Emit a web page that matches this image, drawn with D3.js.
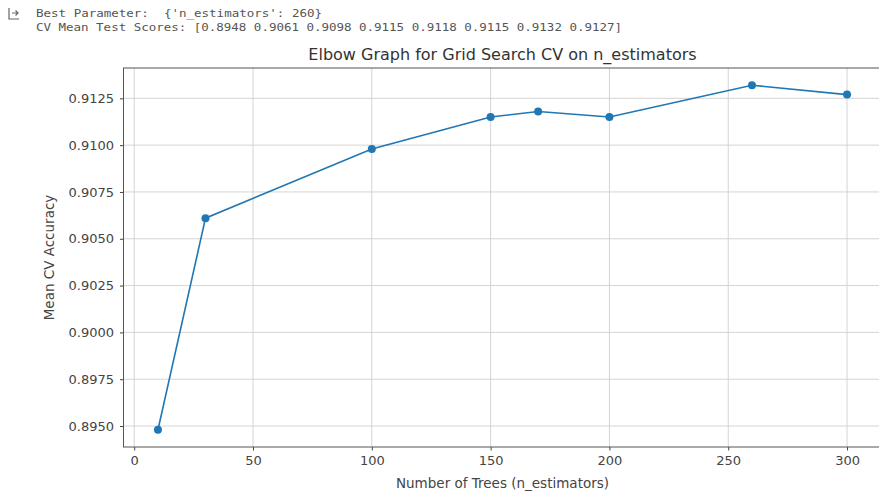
<!DOCTYPE html>
<html>
<head>
<meta charset="utf-8">
<script src="https://cdn.jsdelivr.net/npm/d3@7"></script>
<style>
  body { margin: 0; background: #fff; }
  svg { display: block; }
  .out { font-family: "DejaVu Sans Mono", monospace; font-size: 11px; fill: #555; white-space: pre; }
  .tick text { font-family: "DejaVu Sans", sans-serif; font-size: 13px; fill: #444; }
</style>
</head>
<body>
<svg id="chart"></svg>
<script>
// --------------------- data
let n_estimators = [10, 30, 100, 150, 170, 200, 260, 300];
let mean_scores = [0.8948, 0.9061, 0.9098, 0.9115, 0.9118, 0.9115, 0.9132, 0.9127];
let x_ticks = [0, 50, 100, 150, 200, 250, 300];
let y_ticks = [0.8950, 0.8975, 0.9000, 0.9025, 0.9050, 0.9075, 0.9100, 0.9125];
let output_lines = [
    "Best Parameter:  {'n_estimators': 260}",
    "CV Mean Test Scores: [0.8948 0.9061 0.9098 0.9115 0.9118 0.9115 0.9132 0.9127]"
];

let width = 879, height = 496;
let plot = {left: 123.5, right: 881.5, top: 68, bottom: 447};

let svg = d3.select("#chart")
    .attr("width", width)
    .attr("height", height);

// notebook output text above the plot
let icon = svg.append("g").attr("stroke", "#666").attr("fill", "none").attr("stroke-width", 1.2);
icon.append("path").attr("d", "M9,8 L9,19 L19,19");
icon.append("path").attr("d", "M12,13 L18,13 M15.5,10.5 L18,13 L15.5,15.5");

svg.selectAll(".out")
    .data(output_lines)
    .enter().append("text")
    .attr("class", "out")
    .attr("x", 36)
    .attr("y", (d, i) => 17 + i * 14)
    .attr("textLength", (d, i) => i == 0 ? 286 : 586)
    .attr("lengthAdjust", "spacingAndGlyphs")
    .text(d => d);

// matplotlib-like 5% margins
let xpad = (d3.max(n_estimators) - d3.min(n_estimators)) * 0.05;
let ypad = (d3.max(mean_scores) - d3.min(mean_scores)) * 0.05;

let x = d3.scaleLinear()
    .domain([d3.min(n_estimators) - xpad, d3.max(n_estimators) + xpad])
    .range([plot.left, plot.right]);

let y = d3.scaleLinear()
    .domain([d3.min(mean_scores) - ypad, d3.max(mean_scores) + ypad])
    .range([plot.bottom, plot.top]);

// grid
let grid = svg.append("g").attr("stroke", "#cfcfcf").attr("stroke-width", 0.9);
grid.selectAll(".vgrid")
    .data(x_ticks)
    .enter().append("line")
    .attr("x1", d => x(d)).attr("x2", d => x(d))
    .attr("y1", plot.top).attr("y2", plot.bottom);
grid.selectAll(".hgrid")
    .data(y_ticks)
    .enter().append("line")
    .attr("x1", plot.left).attr("x2", plot.right)
    .attr("y1", d => y(d)).attr("y2", d => y(d));

// axes
let xAxis = d3.axisBottom(x).tickValues(x_ticks).tickFormat(d3.format("d")).tickSize(3.5).tickPadding(5);
let yAxis = d3.axisLeft(y).tickValues(y_ticks).tickFormat(d3.format(".4f")).tickSize(3.5).tickPadding(6);

svg.append("g")
    .attr("class", "x axis")
    .attr("transform", "translate(0," + plot.bottom + ")")
    .call(xAxis);

svg.append("g")
    .attr("class", "y axis")
    .attr("transform", "translate(" + plot.left + ",0)")
    .call(yAxis);

svg.selectAll(".axis .domain").remove();
svg.selectAll(".axis .tick line").attr("stroke", "#444");

// frame
svg.append("rect")
    .attr("x", plot.left).attr("y", plot.top)
    .attr("width", plot.right - plot.left)
    .attr("height", plot.bottom - plot.top)
    .attr("fill", "none")
    .attr("stroke", "#555")
    .attr("stroke-width", 1);

// line + markers
let line = d3.line()
    .x((d, i) => x(n_estimators[i]))
    .y(d => y(d));

svg.append("path")
    .datum(mean_scores)
    .attr("d", line)
    .attr("fill", "none")
    .attr("stroke", "#1f77b4")
    .attr("stroke-width", 1.6);

svg.selectAll(".dot")
    .data(mean_scores)
    .enter().append("circle")
    .attr("class", "dot")
    .attr("cx", (d, i) => x(n_estimators[i]))
    .attr("cy", d => y(d))
    .attr("r", 4)
    .attr("fill", "#1f77b4");

// labels
svg.append("text")
    .attr("x", (plot.left + plot.right) / 2)
    .attr("y", 60)
    .attr("text-anchor", "middle")
    .attr("font-family", "DejaVu Sans, sans-serif")
    .attr("font-size", "16px")
    .attr("fill", "#333")
    .text("Elbow Graph for Grid Search CV on n_estimators");

svg.append("text")
    .attr("x", (plot.left + plot.right) / 2)
    .attr("y", 488)
    .attr("text-anchor", "middle")
    .attr("font-family", "DejaVu Sans, sans-serif")
    .attr("font-size", "13.5px")
    .attr("fill", "#444")
    .text("Number of Trees (n_estimators)");

svg.append("text")
    .attr("transform", "translate(54," + (plot.top + plot.bottom) / 2 + ") rotate(-90)")
    .attr("text-anchor", "middle")
    .attr("font-family", "DejaVu Sans, sans-serif")
    .attr("font-size", "13.5px")
    .attr("fill", "#444")
    .text("Mean CV Accuracy");
</script>
</body>
</html>
